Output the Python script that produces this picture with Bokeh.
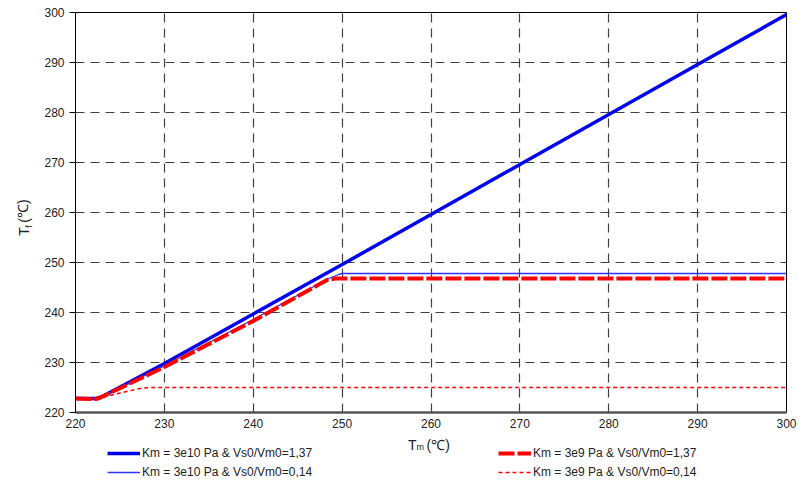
from bokeh.plotting import figure
from bokeh.models import Range1d, Legend, LegendItem, FixedTicker
from bokeh.layouts import row, column
from bokeh.core.properties import value
from bokeh.embed import file_html
from bokeh.resources import INLINE

# data
tm_a = [220, 222.3, 222.8, 230, 240, 250, 260, 270, 280, 290, 300]
tf_a = [222.8, 222.8, 223.0, 229.8, 239.7, 249.6, 259.6, 269.6, 279.6, 289.6, 299.6]

tm_b = [220, 222.3, 222.8, 230, 240, 248.5, 249.6, 250, 260, 280, 300]
tf_b = [222.8, 222.7, 223.0, 229.3, 238.6, 246.8, 247.6, 247.8, 247.8, 247.8, 247.8]

tm_c = [220, 222.3, 222.8, 230, 240, 248.3, 249.2, 250, 260, 280, 300]
tf_c = [222.8, 222.7, 223.0, 229.1, 238.3, 246.5, 246.8, 246.8, 246.8, 246.8, 246.8]

tm_d = [220, 222.3, 222.8, 225, 227.5, 228.5, 240, 260, 280, 300]
tf_d = [222.8, 222.7, 222.9, 223.9, 224.9, 225.0, 225.0, 225.0, 225.0, 225.0]

ticks = [220, 230, 240, 250, 260, 270, 280, 290, 300]

names = ["Km = 3e10 Pa & Vs0/Vm0=1,37", "Km = 3e10 Pa & Vs0/Vm0=0,14",
         "Km = 3e9 Pa & Vs0/Vm0=1,37", "Km = 3e9 Pa & Vs0/Vm0=0,14"]

FONT = "Liberation Sans"
TXT = "#222222"

styles = [dict(line_color="#0000ee", line_width=3.5),
          dict(line_color="#3333ff", line_width=1.3),
          dict(line_color="#ff0000", line_width=4, line_dash="16 3"),
          dict(line_color="#ff0000", line_width=1.5, line_dash="4 3")]

# ---------------- main chart ----------------
LEFT_W = 33
main = figure(width=802 - LEFT_W, height=432, output_backend="svg", toolbar_location=None,
              x_range=Range1d(220, 300), y_range=Range1d(220, 300),
              min_border_left=75 - LEFT_W, min_border_right=16, min_border_top=12,
              min_border_bottom=20)
main.background_fill_color = "white"
main.border_fill_color = "white"
main.outline_line_color = "black"
main.outline_line_width = 1

for ax in (main.xaxis[0], main.yaxis[0]):
    ax.ticker = FixedTicker(ticks=ticks)
    ax.major_label_text_font = FONT
    ax.major_label_text_font_size = "12px"
    ax.major_label_text_color = TXT
    ax.minor_tick_line_color = None

main.yaxis.major_tick_out = 6
main.yaxis.major_tick_in = 0
main.yaxis.major_tick_line_color = "black"
main.yaxis.axis_line_color = "black"
main.xaxis.major_tick_line_color = None
main.xaxis.axis_line_color = "#555555"
main.xaxis.axis_line_width = 2.5
main.xaxis.major_label_standoff = 0

for g in (main.xgrid[0], main.ygrid[0]):
    g.grid_line_color = "#404040"
    g.grid_line_dash = "9 6"
    g.grid_line_width = 1.2

main.line(tm_a, tf_a, **styles[0])
main.line(tm_b, tf_b, **styles[1])
main.line(tm_c, tf_c, **styles[2])
main.line(tm_d, tf_d, **styles[3])

# ---------------- y-axis title panel ----------------
left = figure(width=LEFT_W, height=432, output_backend="svg", toolbar_location=None,
              x_range=Range1d(0, LEFT_W), y_range=Range1d(432, 0),
              min_border=0, x_axis_type=None, y_axis_type=None)
left.outline_line_color = None
left.grid.visible = False
left.text(x=[31], y=[241], text=["T"], angle=1.5708, text_font=value(FONT),
          text_font_size="14px", text_color=TXT, text_align="left", text_baseline="bottom")
left.text(x=[33], y=[232.5], text=["f"], angle=1.5708, text_font=value(FONT),
          text_font_size="9px", text_color=TXT, text_align="left", text_baseline="bottom")
left.text(x=[31], y=[227], text=["(℃)"], angle=1.5708, text_font=value(FONT),
          text_font_size="14px", text_color=TXT, text_align="left", text_baseline="bottom")

# ---------------- bottom panel: x title + legend ----------------
BH = 486 - 432
bottom = figure(width=802, height=BH, output_backend="svg", toolbar_location=None,
                x_range=Range1d(0, 802), y_range=Range1d(BH, 0),
                min_border=0, x_axis_type=None, y_axis_type=None)
bottom.outline_line_color = None
bottom.grid.visible = False
bottom.text(x=[416], y=[12], text=["T"], text_font=value(FONT), text_font_size="14px",
            text_color=TXT, text_align="right", text_baseline="alphabetic")
bottom.text(x=[416], y=[14], text=["m"], text_font=value(FONT), text_font_size="9px",
            text_color=TXT, text_align="left", text_baseline="alphabetic")
bottom.text(x=[426], y=[12], text=["(℃)"], text_font=value(FONT), text_font_size="14px",
            text_color=TXT, text_align="left", text_baseline="alphabetic")

# legend proxies (placed outside the visible range of this panel)
dummies = [bottom.line([-100, -90], [-100, -90], **s) for s in styles]

LEG_H = 2 * 16 + 3
leg1 = Legend(items=[LegendItem(label=names[0], renderers=[dummies[0]]),
                     LegendItem(label=names[1], renderers=[dummies[1]])],
              location=(107, BH - 13 - LEG_H))
leg2 = Legend(items=[LegendItem(label=names[2], renderers=[dummies[2]]),
                     LegendItem(label=names[3], renderers=[dummies[3]])],
              location=(498, BH - 13 - LEG_H))
for lg in (leg1, leg2):
    lg.label_text_font = FONT
    lg.label_text_font_size = "12px"
    lg.label_text_color = TXT
    lg.glyph_width = 33
    lg.glyph_height = 16
    lg.label_height = 16
    lg.label_standoff = 2
    lg.spacing = 3
    lg.padding = 0
    lg.margin = 0
    lg.border_line_color = None
    lg.background_fill_alpha = 0
    bottom.add_layout(lg, "center")

layout = column(row(left, main, spacing=0), bottom, spacing=0)
open("out.html", "w").write(file_html(layout, INLINE))
